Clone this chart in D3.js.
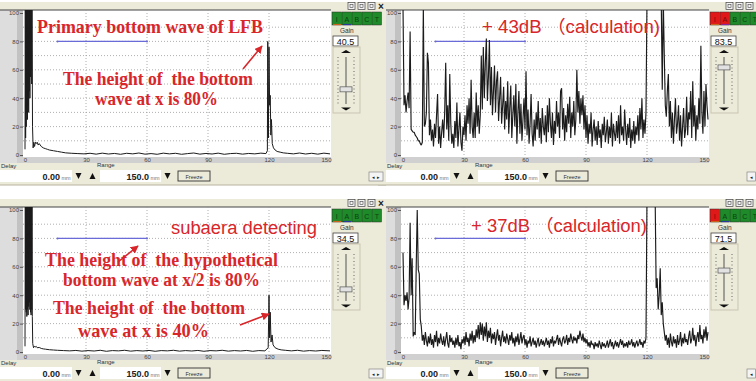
<!DOCTYPE html>
<html>
<head>
<meta charset="utf-8">
<script src="https://cdn.jsdelivr.net/npm/d3@7"></script>
<style>
  body { margin: 0; background: #fff; }
  svg { display: block; font-family: "Liberation Sans", Arial, sans-serif; }
</style>
</head>
<body>
<svg id="chart" width="756" height="381"></svg>
<script>
// axis ticks and grid
const xTicks = [0, 30, 60, 90, 120, 150];
const yTicks = [0, 20, 40, 60, 80, 100];
const gridX = [30, 60, 90, 120];
const gridY = [10, 20, 30, 40, 50, 60, 70, 80, 90];
const gate = [[16, 80], [60, 80]];
const gains = [40.5, 83.5, 34.5, 71.5];
const buttonLabels = ['I', 'A', 'B', 'C', 'T'];
const delayText = '0.00';
const rangeText = '150.0';

// primary bottom wave of LFB, [mm, %]
const traceLfb = [[0,4],[0.15,105],[0.3,12],[0.45,105],[0.6,20],[0.75,105],[0.9,30],[1.05,105],[1.2,25],[1.35,105],
  [1.5,35],[1.65,105],[1.8,30],[1.95,105],[2.1,45],[2.25,105],[2.4,40],[2.55,105],[2.7,55],[2.85,105],[3,60],
  [3.15,105],[3.3,50],[3.45,105],[3.7,20],
  [4,5],[4.3,9],[4.7,6],[5.1,9],[5.5,8],[6,9],[6.5,7],[7,8],[8,6],[9,5],[10,4.5],[11,4],[12,3.5],[14,3],[16,2.5],
  [18,2],[20,1.5],[23,1.2],[26,1],[29,0.8],[32,1.2],[35,0.6],[38,1.3],[41,0.7],[44,1.1],[47,0.5],[50,1.2],[53,0.8],
  [56,1.4],[59,0.6],[62,1],[65,0.5],[68,1.3],[71,0.8],[74,1.2],[77,0.5],[80,1],[83,1.4],[86,0.6],[89,1.1],[92,0.7],
  [95,1.3],[98,0.5],[101,1],[104,1.2],[107,0.6],[110,1.1],[113,0.8],[116,1.3],[118.5,1],[119.2,3],[119.4,80],
  [119.7,12],[120,76],[120.3,35],[120.6,42],[120.9,14],[121.2,25],[121.6,8],[122.2,5],[123,3.5],[124,2.5],
  [125.5,2],[127,1.5],[129,1.2],[132,0.8],[135,1.4],[138,0.7],[141,1.2],[144,0.6],[147,1.3],[150,0.8]];

// subaera detecting, [mm, %]
const traceSub = [[0,4],[0.15,105],[0.3,30],[0.45,105],[0.6,28],[0.75,105],[0.9,25],[1.05,105],[1.2,30],[1.35,105],
  [1.5,26],[1.65,105],[1.8,32],[1.95,105],[2.1,35],[2.25,105],[2.4,30],[2.55,105],[2.7,28],[2.85,105],[3,26],
  [3.15,105],[3.3,30],[3.45,105],[3.6,25],
  [3.8,6],[4.2,3],[4.6,4],[5,3.5],[5.5,4],[6,3],[7,3.2],[8,2.5],[9,2.2],[10,2],[12,1.6],[14,1.4],[16,1.2],[19,1],
  [22,0.8],[25,1.1],[28,0.6],[31,1],[34,0.7],[37,1.2],[40,0.5],[43,1],[46,0.8],[49,1.2],[52,0.6],[55,1],[58,0.7],
  [61,1.1],[64,0.5],[67,1],[70,0.8],[73,1.2],[76,0.6],[79,1],[82,0.7],[85,1.1],[88,0.5],[91,1],[94,0.8],[97,1.2],
  [100,0.6],[103,1],[106,0.7],[109,1.1],[112,0.5],[115,1],[118,0.8],[119.6,3],[120,40],[120.3,10],[120.6,28],
  [121,7],[121.5,12],[122,5],[123,3],[124.5,2],[126,1.5],[128,1.2],[131,0.8],[134,1.2],[137,0.6],[140,1],
  [143,0.7],[146,1.1],[150,0.8]];

// +43 dB sweep, one sample every 0.5 mm
const amp43 = [105,35,42,30,38,44,33,87,18,17, 16,16,14,13,12,10,10,8,7,9,
  105,20,22,30,72,65,14,25,10,18, 6,22,12,28,43,8,20,5,16,25,
  12,30,65,18,35,10,57,22,8,15, 5,24,12,37,6,18,30,9,3,20,
  14,28,10,35,22,40,15,53,20,12, 30,12,44,20,35,15,28,70,32,76,
  40,65,82,38,55,81,35,62,28,45, 63,30,52,59,24,40,55,22,35,48,
  18,38,25,52,15,33,49,12,28,42, 20,50,8,30,45,15,36,10,25,40,
  18,59,14,32,8,22,43,15,6,25, 10,30,18,38,12,26,8,33,20,14,
  28,9,35,16,40,22,12,30,7,24, 15,38,20,30,12,45,47,18,33,10,
  28,16,36,22,41,12,30,20,38,14, 25,60,30,45,22,40,28,42,18,35,
  12,28,8,22,15,30,6,18,25,10, 20,7,24,12,18,5,22,14,27,9,
  16,25,8,20,12,30,6,22,15,10, 24,12,28,8,35,14,20,10,32,18,
  7,22,12,26,5,18,10,24,8,20, 14,28,10,33,18,40,12,25,15,30,
  110,110,110,110,110,110,110,110,110,110, 110,110,110,110,110,46,110,70,35,27,
  45,57,20,38,12,30,8,25,40,15, 22,35,10,28,6,20,33,12,18,41,
  14,30,25,45,12,52,20,35,10,28, 18,40,22,77,30,15,45,20,50,35,
  25];

// +37 dB sweep, one sample every 0.5 mm
const amp37 = [70,33,40,36,42,30,38,91,40,66, 11,14,12,60,100,58,55,23,18,8,
  12,5,14,8,4,11,6,13,5,9, 3,12,7,15,4,10,6,13,8,5,
  11,4,9,14,6,3,12,7,10,5, 8,3,10,5,12,4,7,2,9,6,
  11,5,14,7,10,4,13,8,15,6, 12,7,16,10,19,9,21,12,20,8,
  18,11,21,7,15,10,17,6,13,9, 14,5,11,16,8,12,4,10,15,7,
  11,6,13,9,5,12,8,14,6,10, 4,11,7,13,5,9,14,6,10,12,
  5,9,3,8,6,11,4,7,10,5, 8,3,7,10,4,6,9,5,8,4,
  7,10,5,8,3,9,6,11,4,8, 6,9,12,5,10,7,4,9,11,6,
  8,12,5,10,7,13,9,6,11,8, 10,6,12,9,15,11,8,13,7,10,
  6,9,4,7,3,8,5,6,2,7, 4,6,3,8,5,2,7,4,6,3,
  5,8,3,6,9,4,7,2,5,8, 4,7,3,6,9,5,8,3,6,4,
  7,3,8,5,6,9,4,7,3,6, 8,4,6,9,5,7,3,8,6,10,
  110,110,110,110,110,110,110,110,110,45, 52,30,40,59,26,35,20,14,8,12,
  5,10,3,13,7,4,11,6,9,3, 12,5,8,14,4,10,6,13,7,9,
  5,11,15,6,9,17,8,12,4,10, 14,7,19,9,12,6,16,10,18,8,
  14];

// red notes laid over the screenshots
const notes = [
  { t: 'Primary bottom wave of LFB', x: 37, y: 33, w: 226, serif: true },
  { t: 'The height of  the bottom', x: 63, y: 85, w: 190, serif: true },
  { t: 'wave at x is 80%', x: 95, y: 105, w: 123, serif: true },
  { t: '+ 43dB （calculation)', x: 482, y: 33, w: 178 },
  { t: 'subaera detecting', x: 171, y: 234, w: 146 },
  { t: 'The height of  the hypothetical', x: 45, y: 266, w: 233, serif: true },
  { t: 'bottom wave at x/2 is 80%', x: 63, y: 286, w: 197, serif: true },
  { t: 'The height of  the bottom', x: 53, y: 314, w: 192, serif: true },
  { t: 'wave at x is 40%', x: 78, y: 337, w: 131, serif: true },
  { t: '+ 37dB （calculation)', x: 471, y: 232, w: 176 }
];
const arrows = [[243, 69, 262, 46], [118, 262, 138, 246], [240, 325, 269, 314]];

const svg = d3.select('#chart');
const red = '#d8262a';
const green = '#1f8a2a';
const btnRed = '#e01818';
const beige = '#ecead9';

const x = d3.scaleLinear().domain([0, 150]).range([25, 330]);
const y = d3.scaleLinear().domain([0, 100]).range([155, 13]);
const thumb = d3.scaleLinear().domain([0, 100]).range([110, 59]);
const line = d3.line().x(d => x(d[0])).y(d => y(d[1]));

const panels = [
  { ox: 378, oy: 0, gain: gains[1], data: amp43.map((v, i) => [i * 0.5, v]), on: [1, 1, 0, 0, 0], right: true, mark: '#8a2a9a' },
  { ox: 378, oy: 197, gain: gains[3], data: amp37.map((v, i) => [i * 0.5, v]), on: [1, 0, 0, 0, 0], right: true, mark: '#2a3a9a' },
  { ox: 0, oy: 0, gain: gains[0], data: traceLfb, on: [0, 0, 0, 0, 0], right: false, mark: '#2a3a9a' },
  { ox: 0, oy: 197, gain: gains[2], data: traceSub, on: [0, 0, 0, 0, 0], right: false, mark: '#2a3a9a' }
];

function tri(g, cx, cy, up) {
  const h = up ? -3 : 3;
  g.append('path').attr('d', `M${cx - 5},${cy - h / 2}L${cx + 5},${cy - h / 2}L${cx},${cy + h / 2}Z`).attr('fill', '#111');
}

panels.forEach((p, k) => {
  const g = svg.append('g').attr('transform', `translate(${p.ox},${p.oy})`);
  const w = p.right ? 378 : 386;

  g.append('rect').attr('x', 0).attr('y', 2).attr('width', w).attr('height', 183).attr('fill', beige);
  g.append('line').attr('x1', 0).attr('x2', w).attr('y1', 185).attr('y2', 185).attr('stroke', '#b8b4a0');

  // label strips round the plot
  g.append('rect').attr('x', p.right ? 8 : 0).attr('y', 10).attr('width', p.right ? 15 : 23).attr('height', 153).attr('fill', '#dddddd');
  g.append('rect').attr('x', 17).attr('y', 10).attr('width', 6).attr('height', 153).attr('fill', '#c2c2c2');
  g.append('rect').attr('x', 17).attr('y', 157).attr('width', 314).attr('height', 6).attr('fill', '#d0d0d0');
  g.append('rect').attr('x', 23).attr('y', 10).attr('width', 308).attr('height', 147).attr('fill', '#fff');
  g.append('line').attr('x1', p.right ? 8 : 0).attr('x2', 331).attr('y1', 10).attr('y2', 10).attr('stroke', '#444');

  // dotted grid
  g.selectAll('.gx').data(gridX).enter().append('line')
    .attr('x1', d => x(d)).attr('x2', d => x(d)).attr('y1', 10).attr('y2', 157)
    .attr('stroke', '#9a9a9a').attr('stroke-width', 0.8).attr('stroke-dasharray', '1,2');
  g.selectAll('.gy').data(gridY).enter().append('line')
    .attr('x1', 23).attr('x2', 331).attr('y1', d => y(d)).attr('y2', d => y(d))
    .attr('stroke', '#9a9a9a').attr('stroke-width', 0.8).attr('stroke-dasharray', '1,2');

  // axes
  const ya = g.append('g').attr('transform', 'translate(23,0)')
    .call(d3.axisLeft(y).tickValues(yTicks).tickSize(3).tickPadding(1));
  ya.select('.domain').remove();
  ya.selectAll('line').attr('stroke', '#555');
  ya.selectAll('text').attr('font-size', 6).attr('fill', '#444').attr('font-family', 'Liberation Sans');
  const xa = g.append('g').attr('transform', 'translate(0,157)')
    .call(d3.axisBottom(x).tickValues(xTicks).tickSize(0).tickPadding(0.5));
  xa.select('.domain').remove();
  xa.selectAll('text').attr('font-size', 6).attr('fill', '#444').attr('font-family', 'Liberation Sans');
  xa.selectAll('text').filter(d => d === 150).attr('text-anchor', 'end').attr('dx', 1);

  // gate
  g.append('path').datum(gate).attr('d', line).attr('stroke', '#6a6ad8').attr('stroke-width', 1.3).attr('fill', 'none');
  g.selectAll('.gt').data(gate).enter().append('circle')
    .attr('cx', d => x(d[0])).attr('cy', d => y(d[1])).attr('r', 1).attr('fill', '#6a6ad8');

  // sweep
  const cid = 'clip' + k;
  g.append('clipPath').attr('id', cid).append('rect').attr('x', 23).attr('y', 10).attr('width', 308).attr('height', 147);
  g.append('path').datum(p.data).attr('d', line).attr('clip-path', `url(#${cid})`)
    .attr('fill', 'none').attr('stroke', '#1c1c1c').attr('stroke-width', p.right ? 1.15 : 1).attr('stroke-linejoin', 'bevel');

  // window buttons
  [348, 358, 368].forEach(bx => {
    g.append('rect').attr('x', bx).attr('y', 2.5).attr('width', 7).attr('height', 7).attr('fill', '#f4f4f4').attr('stroke', '#444').attr('stroke-width', 0.7);
    g.append('rect').attr('x', bx + 2).attr('y', 4.5).attr('width', 3).attr('height', 3).attr('fill', 'none').attr('stroke', '#444').attr('stroke-width', 0.6);
  });
  if (!p.right) {
    g.append('text').attr('x', 381).attr('y', 9.5).attr('text-anchor', 'middle').attr('font-size', 10).attr('font-weight', 'bold').attr('fill', '#222').text('×');
  }

  // channel buttons
  buttonLabels.forEach((b, i) => {
    g.append('rect').attr('x', 332 + 10 * i).attr('y', 12).attr('width', 9.5).attr('height', 13)
      .attr('fill', p.on[i] ? btnRed : green).attr('stroke', '#2c2c2c').attr('stroke-width', 0.5);
    g.append('text').attr('x', 336.8 + 10 * i).attr('y', 21.5).attr('text-anchor', 'middle').attr('font-size', 7)
      .attr('fill', p.on[i] ? '#7a0c0c' : '#0c4010').text(b);
  });
  g.append('line').attr('x1', 343).attr('x2', 351).attr('y1', 24.5).attr('y2', 24.5).attr('stroke', p.mark).attr('stroke-width', 1.2);
  g.append('line').attr('x1', 333).attr('x2', 341).attr('y1', 24.5).attr('y2', 24.5).attr('stroke', '#c8641c').attr('stroke-width', 1.2);

  // gain
  g.append('text').attr('x', 340).attr('y', 33).attr('font-size', 6.5).attr('fill', '#333').text('Gain');
  g.append('rect').attr('x', 333).attr('y', 36).attr('width', 25).attr('height', 10).attr('fill', '#fff').attr('stroke', '#444').attr('stroke-width', 0.8);
  g.append('text').attr('x', 345.5).attr('y', 44.5).attr('text-anchor', 'middle').attr('font-size', 9).attr('fill', '#111').text(p.gain.toFixed(1));
  g.append('rect').attr('x', 333).attr('y', 47).attr('width', 27).attr('height', 66).attr('fill', beige).attr('stroke', '#c9c5b2');
  tri(g, 346, 51.5, true);
  tri(g, 346, 109, false);
  [338, 354].forEach(cx => g.append('line').attr('x1', cx).attr('x2', cx).attr('y1', 57).attr('y2', 104)
    .attr('stroke', '#666').attr('stroke-dasharray', '1,2.5'));
  g.append('line').attr('x1', 346).attr('x2', 346).attr('y1', 57).attr('y2', 104).attr('stroke', '#555');
  g.append('rect').attr('x', 340).attr('y', thumb(p.gain) - 2.5).attr('width', 12).attr('height', 5)
    .attr('fill', '#e2e2e2').attr('stroke', '#555').attr('stroke-width', 0.7);

  // delay / range row
  const bx0 = p.right ? 6 : 0;
  g.append('text').attr('x', p.right ? 9 : 1).attr('y', 167.5).attr('font-size', 6).attr('fill', '#333').text('Delay');
  g.append('text').attr('x', 97).attr('y', 166.5).attr('font-size', 6).attr('fill', '#333').text('Range');
  g.append('rect').attr('x', bx0).attr('y', 170).attr('width', 72 - bx0).attr('height', 12).attr('fill', '#fff');
  g.append('text').attr('x', 60).attr('y', 179.5).attr('text-anchor', 'end').attr('font-size', 9).attr('font-weight', 'bold').attr('fill', '#222').text(delayText);
  g.append('text').attr('x', 61.5).attr('y', 179.5).attr('font-size', 5.5).attr('fill', '#777').text('mm');
  g.append('rect').attr('x', 100).attr('y', 170).attr('width', 61).attr('height', 12).attr('fill', '#fff');
  g.append('text').attr('x', 149).attr('y', 179.5).attr('text-anchor', 'end').attr('font-size', 9).attr('font-weight', 'bold').attr('fill', '#222').text(rangeText);
  g.append('text').attr('x', 150.5).attr('y', 179.5).attr('font-size', 5.5).attr('fill', '#777').text('mm');
  [[74, false], [88, true], [163, false]].forEach(([bx, up]) => {
    g.append('rect').attr('x', bx).attr('y', 171).attr('width', 9).attr('height', 10).attr('fill', beige);
    g.append('path').attr('d', up ? `M${bx + 1.5},${179}L${bx + 7.5},${179}L${bx + 4.5},${173}Z`
      : `M${bx + 1.5},${173}L${bx + 7.5},${173}L${bx + 4.5},${179}Z`).attr('fill', '#111');
  });
  g.append('rect').attr('x', 178).attr('y', 171).attr('width', 32).attr('height', 10).attr('fill', beige).attr('stroke', '#333').attr('stroke-width', 0.9);
  g.append('text').attr('x', 194).attr('y', 178.5).attr('text-anchor', 'middle').attr('font-size', 5.5).attr('fill', '#333').text('Freeze');
  if (p.right) {
    g.append('rect').attr('x', 369).attr('y', 172).attr('width', 8.5).attr('height', 9).attr('fill', '#f4f4f4').attr('stroke', '#777').attr('stroke-width', 0.6);
    g.append('text').attr('x', 373.2).attr('y', 179).attr('text-anchor', 'middle').attr('font-size', 5).attr('fill', '#222').text('◂');
  } else {
    g.append('rect').attr('x', 369).attr('y', 172).attr('width', 14).attr('height', 9).attr('fill', '#f4f4f4').attr('stroke', '#777').attr('stroke-width', 0.6);
    g.append('text').attr('x', 376).attr('y', 179).attr('text-anchor', 'middle').attr('font-size', 5).attr('fill', '#222').text('◂ ▸');
  }
});

// notes and arrows
svg.append('defs').append('marker').attr('id', 'ah').attr('viewBox', '0 0 10 10').attr('refX', 9).attr('refY', 5)
  .attr('markerWidth', 5).attr('markerHeight', 5).attr('orient', 'auto')
  .append('path').attr('d', 'M0,0L10,5L0,10Z').attr('fill', red);

svg.selectAll('.note').data(notes).enter().append('text')
  .attr('x', d => d.x).attr('y', d => d.y)
  .attr('textLength', d => d.w).attr('lengthAdjust', 'spacingAndGlyphs')
  .attr('font-family', d => d.serif ? '"Liberation Serif", "Times New Roman", serif' : '"Liberation Sans", "Noto Sans CJK SC", sans-serif')
  .attr('font-weight', d => d.serif ? 'bold' : 'normal')
  .attr('font-size', d => d.serif ? 19 : 18)
  .attr('fill', red).style('white-space', 'pre')
  .text(d => d.t);

svg.selectAll('.arrow').data(arrows).enter().append('line')
  .attr('x1', d => d[0]).attr('y1', d => d[1]).attr('x2', d => d[2]).attr('y2', d => d[3])
  .attr('stroke', red).attr('stroke-width', 1.6).attr('marker-end', 'url(#ah)');
</script>
</body>
</html>
